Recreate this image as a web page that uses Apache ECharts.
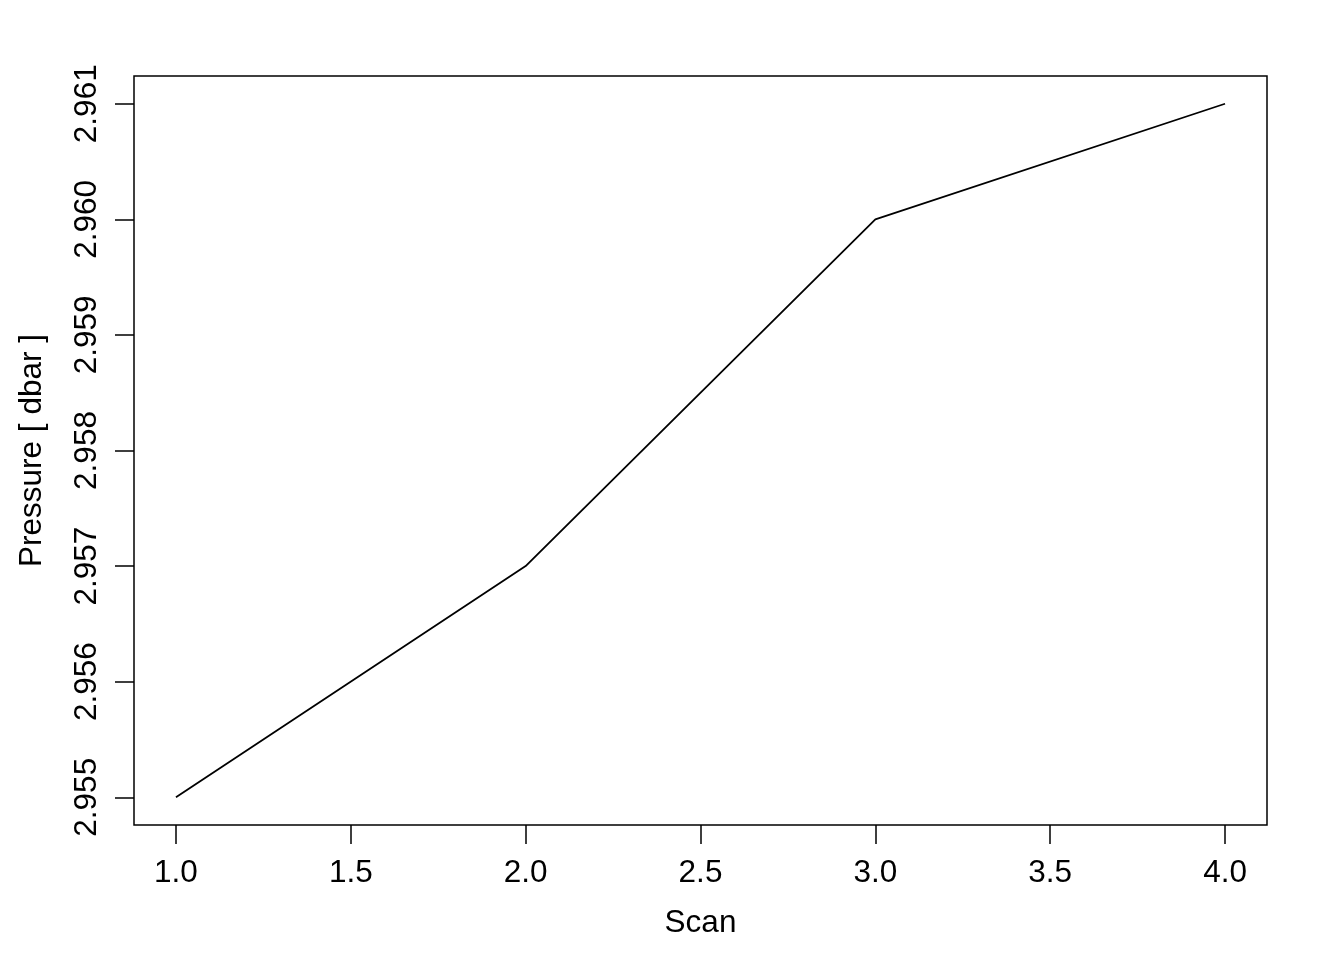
<!DOCTYPE html>
<html>
<head>
<meta charset="utf-8">
<script src="https://cdn.jsdelivr.net/npm/echarts@6/dist/echarts.min.js"></script>
<style>html,body{margin:0;padding:0;background:#fff;}#c{width:1344px;height:960px;}</style>
</head>
<body>
<div id="c"></div>
<script>
const scans = [1, 2, 3, 4];
const pressure = [2.955, 2.957, 2.960, 2.961];
const xTicks = [1.0, 1.5, 2.0, 2.5, 3.0, 3.5, 4.0];
const yTicks = [2.955, 2.956, 2.957, 2.958, 2.959, 2.960, 2.961];

const font = 'Liberation Sans, Arial, Helvetica, sans-serif';
const fs = 31.5;
const chart = echarts.init(document.getElementById('c'), null, {renderer: 'canvas'});
chart.setOption({
  animation: false,
  backgroundColor: '#fff',
  grid: {left: 134, right: 77, top: 76, bottom: 135, show: true, borderColor: '#000', borderWidth: 1.5, backgroundColor: 'transparent'},
  xAxis: {
    type: 'value', min: 0.88, max: 4.12,
    name: 'Scan', nameLocation: 'middle', nameGap: 82,
    nameTextStyle: {fontFamily: font, fontSize: fs, color: '#000', verticalAlign: 'top'},
    axisLine: {show: false},
    axisTick: {show: true, length: 19, inside: false, customValues: xTicks, lineStyle: {color: '#000', width: 1.5}},
    axisLabel: {customValues: xTicks, margin: 32, fontFamily: font, fontSize: fs, color: '#000', formatter: v => v.toFixed(1)},
    splitLine: {show: false}
  },
  yAxis: {
    type: 'value', min: 2.95476, max: 2.96124,
    name: 'Pressure [ dbar ]', nameLocation: 'middle', nameGap: 86,
    nameTextStyle: {fontFamily: font, fontSize: fs, color: '#000'},
    axisLine: {show: false},
    axisTick: {show: true, length: 19, inside: false, customValues: yTicks, lineStyle: {color: '#000', width: 1.5}},
    axisLabel: {customValues: yTicks, rotate: 90, margin: 31, fontFamily: font, fontSize: fs, color: '#000', formatter: v => v.toFixed(3)},
    splitLine: {show: false}
  },
  series: [{
    type: 'line',
    data: scans.map((s, i) => [s, pressure[i]]),
    showSymbol: false, symbol: 'none',
    lineStyle: {color: '#000', width: 1.8},
    itemStyle: {color: '#000'}
  }]
});
</script>
</body>
</html>
